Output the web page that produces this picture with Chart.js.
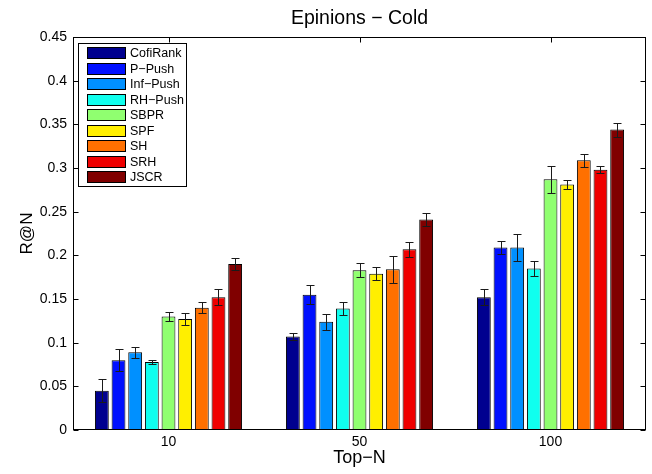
<!DOCTYPE html>
<html><head><meta charset="utf-8">
<script src="https://cdn.jsdelivr.net/npm/chart.js@4/dist/chart.umd.min.js"></script>
<style>html,body{margin:0;padding:0;background:#fff}</style>
</head><body>
<canvas id="c" width="652" height="474"></canvas>
<script>
// ---- data ----
const chartTitle = 'Epinions \u2212 Cold';
const categories = ['10', '50', '100'];
const methods = ['CofiRank', 'P\u2212Push', 'Inf\u2212Push', 'RH\u2212Push', 'SBPR', 'SPF', 'SH', 'SRH', 'JSCR'];
const cofiRank    = [0.045, 0.107, 0.152];
const pPush       = [0.080, 0.155, 0.209];
const infPush     = [0.089, 0.124, 0.209];
const rhPush      = [0.078, 0.139, 0.185];
const sbpr        = [0.130, 0.183, 0.287];
const spf         = [0.127, 0.179, 0.281];
const sh          = [0.140, 0.184, 0.309];
const srh         = [0.152, 0.207, 0.298];
const jscr        = [0.190, 0.241, 0.344];
const cofiRankErr = [0.013, 0.004, 0.009];
const pPushErr    = [0.013, 0.0105, 0.0075];
const infPushErr  = [0.0065, 0.009, 0.0155];
const rhPushErr   = [0.0025, 0.007, 0.0088];
const sbprErr     = [0.005, 0.008, 0.0155];
const spfErr      = [0.0065, 0.0073, 0.0048];
const shErr       = [0.0065, 0.0155, 0.0073];
const srhErr      = [0.009, 0.0088, 0.0042];
const jscrErr     = [0.0065, 0.0073, 0.008];
const yTickValues = [0, 0.05, 0.1, 0.15, 0.2, 0.25, 0.3, 0.35, 0.4, 0.45];

const seriesValues = [cofiRank, pPush, infPush, rhPush, sbpr, spf, sh, srh, jscr];
const seriesErrors = [cofiRankErr, pPushErr, infPushErr, rhPushErr, sbprErr, spfErr, shErr, srhErr, jscrErr];
const colors = ['#00008F', '#0010FF', '#0090FF', '#10FFEF', '#90FF70', '#FFEF00', '#FF7000', '#EF0000', '#800000'];

const FONT = "'Liberation Sans', Arial, Helvetica, sans-serif";

const datasets = methods.map((m, i) => ({
  label: m,
  data: seriesValues[i],
  errors: seriesErrors[i],
  backgroundColor: colors[i],
  borderColor: '#000',
  borderWidth: 1,
  borderSkipped: 'start',
  categoryPercentage: 0.785,
  barPercentage: 0.83
}));

const axesPlugin = {
  id: 'axesPlugin',
  beforeDatasetsDraw(chart) {
    const {ctx, chartArea: a, scales: {x, y}} = chart;
    ctx.save();
    ctx.strokeStyle = '#000';
    ctx.lineWidth = 1;
    ctx.beginPath();
    const L = Math.round(a.left) + 0.5, R = Math.round(a.right) - 0.5;
    const T = Math.round(a.top) + 0.5, B = Math.round(a.bottom) - 0.5;
    yTickValues.forEach(v => {
      const py = Math.round(y.getPixelForValue(v)) + 0.5;
      ctx.moveTo(L, py); ctx.lineTo(L + 5, py);
      ctx.moveTo(R, py); ctx.lineTo(R - 5, py);
    });
    categories.forEach((c, i) => {
      const px = Math.round(x.getPixelForValue(i)) + 0.5;
      ctx.moveTo(px, T); ctx.lineTo(px, T + 5);
      ctx.moveTo(px, B); ctx.lineTo(px, B - 5);
    });
    ctx.stroke();
    ctx.restore();
  },
  afterDatasetsDraw(chart) {
    const {ctx, chartArea: a, scales: {y}} = chart;
    ctx.save();
    // error bars
    ctx.strokeStyle = '#1a1a1a';
    ctx.lineWidth = 1;
    chart.data.datasets.forEach((ds, i) => {
      const meta = chart.getDatasetMeta(i);
      meta.data.forEach((bar, j) => {
        const v = ds.data[j], e = ds.errors[j];
        const px = Math.round(bar.x) + 0.5;
        const yt = Math.round(y.getPixelForValue(v + e)) + 0.5;
        const yb = Math.round(y.getPixelForValue(v - e)) + 0.5;
        ctx.beginPath();
        ctx.moveTo(px, yt); ctx.lineTo(px, yb);
        ctx.moveTo(px - 4, yt); ctx.lineTo(px + 4, yt);
        ctx.moveTo(px - 4, yb); ctx.lineTo(px + 4, yb);
        ctx.stroke();
      });
    });
    // frame
    ctx.strokeStyle = '#000';
    const L = Math.round(a.left) + 0.5, R = Math.round(a.right) - 0.5;
    const T = Math.round(a.top) + 0.5, B = Math.round(a.bottom) - 0.5;
    ctx.strokeRect(L, T, R - L, B - T);
    // title, centred over the plot area
    ctx.fillStyle = '#000';
    ctx.font = '19.5px ' + FONT;
    ctx.textAlign = 'center';
    ctx.textBaseline = 'alphabetic';
    ctx.fillText(chartTitle, (a.left + a.right) / 2, 23.5);
    ctx.restore();
  },
  afterDraw(chart) {
    const {ctx, chartArea: a} = chart;
    ctx.save();
    const bx = Math.round(a.left) + 5.5, by = Math.round(a.top) + 6.5;
    ctx.fillStyle = '#fff';
    ctx.fillRect(bx, by, 108, 143);
    ctx.strokeStyle = '#000';
    ctx.lineWidth = 1;
    ctx.strokeRect(bx, by, 108, 143);
    ctx.font = '12.5px ' + FONT;
    ctx.textBaseline = 'middle';
    ctx.textAlign = 'left';
    chart.data.datasets.forEach((ds, i) => {
      const sy = Math.round(a.top + 10 + i * 15.5) + 0.5;
      const sx = Math.round(a.left) + 14.5;
      ctx.fillStyle = ds.backgroundColor;
      ctx.fillRect(sx, sy, 38, 11);
      ctx.strokeRect(sx, sy, 38, 11);
      ctx.fillStyle = '#000';
      ctx.fillText(ds.label, a.left + 57, sy + 6);
    });
    ctx.restore();
  }
};

new Chart(document.getElementById('c'), {
  type: 'bar',
  data: { labels: categories, datasets },
  options: {
    responsive: false,
    animation: false,
    layout: { padding: { left: 0, right: 6, top: 37, bottom: 0 } },
    plugins: {
      legend: { display: false },
      tooltip: { enabled: false },
      title: { display: false }
    },
    scales: {
      x: {
        grid: { display: false, drawTicks: false },
        border: { display: false },
        ticks: { color: '#000', font: { family: FONT, size: 14 }, padding: 4, maxRotation: 0 },
        title: { display: true, text: 'Top\u2212N', color: '#000', font: { family: FONT, size: 18, lineHeight: 1.2 }, padding: { top: 0, bottom: 5 } },
        afterFit(s) { s.height = 44; }
      },
      y: {
        min: 0, max: 0.45,
        grid: { display: false, drawTicks: false },
        border: { display: false },
        afterBuildTicks(s) { s.ticks = yTickValues.map(v => ({ value: v })); },
        ticks: {
          color: '#000', font: { family: FONT, size: 14 }, padding: 6,
          callback: v => String(parseFloat(v.toFixed(2)))
        },
        title: { display: true, text: 'R@N', color: '#000', font: { family: FONT, size: 17, lineHeight: 1.2 }, padding: { top: 17, bottom: 0 } },
        afterFit(s) { s.width = 73; }
      }
    }
  },
  plugins: [axesPlugin]
});
</script>
</body></html>
